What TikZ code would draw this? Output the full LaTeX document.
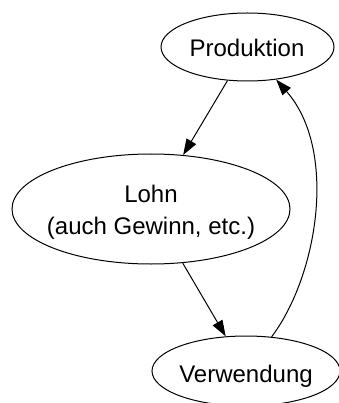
\documentclass[tikz,border=0pt]{standalone}
\usepackage{fontspec}
\setmainfont{Liberation Sans}
\usetikzlibrary{shapes.geometric,arrows.meta}
\begin{document}
\begin{tikzpicture}[x=1pt,y=-1pt,
  state/.style={draw,ellipse,line width=1pt,inner sep=0pt},
  lab/.style={inner sep=0pt,align=center,font=\fontsize{24}{32}\selectfont},
  edge/.style={line width=1pt,-{Triangle[length=16pt,width=11pt]}}]
\useasboundingbox (0,0) rectangle (338,403);
\node[state,minimum width=173pt,minimum height=68pt] (p) at (247.5,47) {};
\node[lab] (pt) at (247,47.6) {Produktion};
\node[state,minimum width=278pt,minimum height=110pt] (l) at (151,209) {};
\node[lab] (lt) at (151,212.75) {Lohn\\(auch Gewinn, etc.)};
\node[state,minimum width=188pt,minimum height=70pt] (v) at (246,371) {};
\node[lab] (vt) at (246,375.85) {Verwendung};
\draw[edge] (p) -- (l);
\draw[edge] (l) -- (v);
\draw[edge] (v) .. controls (318,275) and (338,150) .. (p);
\end{tikzpicture}
\end{document}
